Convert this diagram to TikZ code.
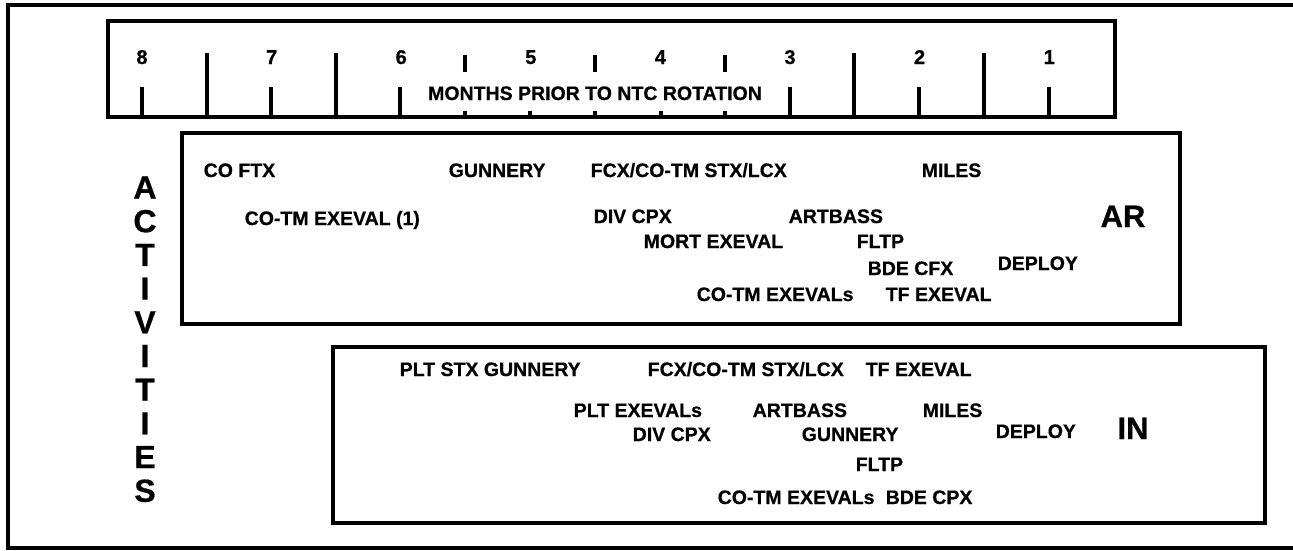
\documentclass[tikz,border=0pt]{standalone}
\usepackage{fontspec}
\setmainfont{Liberation Sans}[BoldFeatures={FakeBold=0.6}]
\begin{document}
\begin{tikzpicture}[x=1pt,y=-1pt,line width=3.5pt,
  lbl/.style={font=\fontsize{19.5}{20}\bfseries\selectfont,inner sep=0pt,anchor=west,text height=14pt,text depth=0pt},
  num/.style={font=\fontsize{20}{20}\bfseries\selectfont,inner sep=0pt,text height=14pt,text depth=0pt},
  big/.style={font=\fontsize{31}{31}\bfseries\selectfont,inner sep=0pt,text height=22pt,text depth=0pt},
  vlet/.style={font=\fontsize{32}{32}\bfseries\selectfont,inner sep=0pt,text height=23pt,text depth=0pt},
  tick/.style={line width=4.5pt},
  frame/.style={line width=4pt}]
\useasboundingbox (0,0) rectangle (1293,550);
% outer frame (right side beyond the picture)
\draw[frame] (1293,5) -- (8,5) -- (8,548) -- (1293,548);
% timeline box
\draw[frame] (108,21) rectangle (1115,117);
\foreach \m in {1,...,8} {
  \pgfmathsetmacro{\x}{142+(8-\m)*129.6}
  \node[num] (m\m) at (\x,57) {\m};
}
\foreach \x in {142,271,400,790,919,1049} \draw[tick] (\x,87) -- (\x,117);
\foreach \x in {530,661} \draw[tick] (\x,111) -- (\x,117);
\foreach \x in {207,336,854,984} \draw[tick] (\x,53) -- (\x,117);
\foreach \x in {465,595,725} {\draw[tick] (\x,55) -- (\x,72); \draw[tick] (\x,111) -- (\x,117);}
\node[lbl,anchor=center] (months) at (595,93) {MONTHS PRIOR TO NTC ROTATION};
% ACTIVITIES
\foreach \l [count=\i from 0] in {A,C,T,I,V,I,T,I,E,S}
  \node[vlet] (act\i) at (145,{187+33.7*\i}) {\l};
% AR box
\draw[frame] (182,133) rectangle (1180,324);
\node[lbl] (ar1) at (202,170) {CO FTX};
\node[lbl] (ar2) at (447,170) {GUNNERY};
\node[lbl] (ar3) at (589,170) {FCX/CO-TM STX/LCX};
\node[lbl] (ar4) at (920,170) {MILES};
\node[lbl] (ar5) at (243,218) {CO-TM EXEVAL (1)};
\node[lbl] (ar6) at (592,216) {DIV CPX};
\node[lbl] (ar7) at (787,216) {ARTBASS};
\node[big] (ar) at (1123,216) {AR};
\node[lbl] (ar8) at (642,241) {MORT EXEVAL};
\node[lbl] (ar9) at (855,241) {FLTP};
\node[lbl] (ar10) at (866,268) {BDE CFX};
\node[lbl] (ar11) at (996,263) {DEPLOY};
\node[lbl] (ar12) at (695,294) {CO-TM EXEVALs};
\node[lbl] (ar13) at (884,294) {TF EXEVAL};
% IN box
\draw[frame] (333,347) rectangle (1265,523);
\node[lbl] (in1) at (398,369) {PLT STX GUNNERY};
\node[lbl] (in2) at (646,369) {FCX/CO-TM STX/LCX};
\node[lbl] (in3) at (864,369) {TF EXEVAL};
\node[lbl] (in4) at (572,410) {PLT EXEVALs};
\node[lbl] (in5) at (751,410) {ARTBASS};
\node[lbl] (in6) at (921,410) {MILES};
\node[lbl] (in7) at (631,434) {DIV CPX};
\node[lbl] (in8) at (800,434) {GUNNERY};
\node[lbl] (in9) at (994,431) {DEPLOY};
\node[big] (in) at (1133,428) {IN};
\node[lbl] (in10) at (854,464) {FLTP};
\node[lbl] (in11) at (716,497) {CO-TM EXEVALs};
\node[lbl] (in12) at (884,497) {BDE CPX};
\end{tikzpicture}
\end{document}
